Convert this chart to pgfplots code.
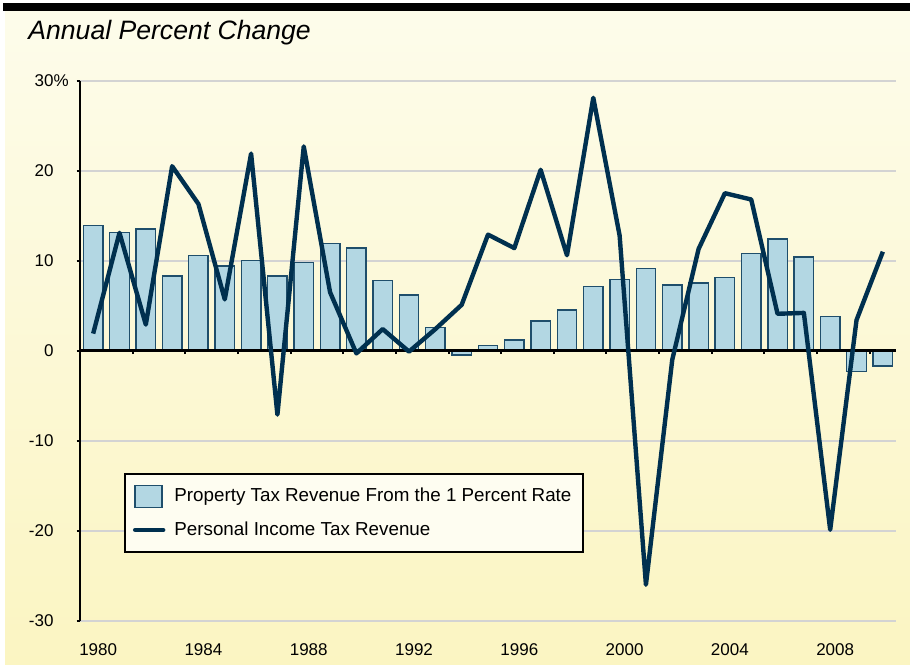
\documentclass[border=0pt]{standalone}
\usepackage{fontspec}
\setmainfont{Liberation Sans}
\usepackage{pgfplots}
\usepackage{pgfplotstable}
\pgfplotsset{compat=1.18}
\definecolor{bgtop}{HTML}{FDFCEB}
\definecolor{bgbot}{HTML}{FBF5C2}
\definecolor{barfill}{HTML}{B3D7E3}
\definecolor{baredge}{HTML}{1F4E6B}
\definecolor{pitline}{HTML}{00304F}
\definecolor{gridgray}{HTML}{D3D3D3}
\definecolor{legfill}{HTML}{FEFDF1}

% annual percent change: property tax (1% rate) and personal income tax
\pgfplotstableread{
year prop pit
1980 13.9 1.9
1981 13.1 13.1
1982 13.5 2.9
1983 8.3 20.5
1984 10.6 16.3
1985 9.4 5.7
1986 10.0 21.9
1987 8.3 -7.1
1988 9.8 22.7
1989 11.9 6.5
1990 11.4 -0.3
1991 7.8 2.4
1992 6.2 -0.1
1993 2.6 2.4
1994 -0.5 5.1
1995 0.6 12.9
1996 1.2 11.4
1997 3.3 20.1
1998 4.5 10.6
1999 7.1 28.1
2000 7.9 12.8
2001 9.1 -26.0
2002 7.3 -1.0
2003 7.5 11.3
2004 8.1 17.5
2005 10.8 16.8
2006 12.4 4.1
2007 10.4 4.2
2008 3.8 -19.9
2009 -2.3 3.4
2010 -1.7 11.0
}\revdata

\pgfplotsset{
  common/.style={
    width=408pt, height=270pt, scale only axis,
    at={(40pt,21.65pt)}, anchor=south west,
    xmin=1979.5, xmax=2010.5, ymin=-30, ymax=30,
  },
  barlegend/.style={legend image code/.code={\draw[##1] (0pt,-5.5pt) rectangle (13.5pt,5.5pt);}},
  linelegend/.style={legend image code/.code={\draw[##1, line cap=round] (0pt,0pt) -- (14pt,0pt);}},
}

\begin{document}
\begin{tikzpicture}
\useasboundingbox (0,0) rectangle (455pt,332pt);
\fill[white] (0,0) rectangle (455pt,332pt);
\shade[top color=bgtop, bottom color=bgbot] (2.5pt,0) rectangle (455pt,330pt);
\fill[black] (1.5pt,326.5pt) rectangle (455pt,330.5pt);
\node[anchor=west, inner sep=0pt, font=\fontsize{13.3}{16}\selectfont\itshape]
  at (14pt,315.5pt) {Annual Percent Change};

% bars, grid, y axis, year labels
\begin{axis}[
    common,
    ybar, bar width=0.74,
    axis x line*=bottom, axis y line*=left,
    x axis line style={draw=none},
    y axis line style={line width=1.3pt},
    xtick={1980,1984,...,2008},
    xticklabels={1980,1984,1988,1992,1996,2000,2004,2008},
    xtick style={draw=none},
    x tick label style={font=\fontsize{8.5}{10}\selectfont, yshift=-6pt, xshift=2.5pt},
    ytick={-30,-20,...,30},
    yticklabels={-30,-20,-10,0,10,20,{30\rlap{\%}}},
    y tick label style={font=\fontsize{8.5}{10}\selectfont, xshift=-8pt},
    ytick style={line width=1pt, black},
    tick align=outside, major tick length=1.7pt,
    ymajorgrids, grid style={gridgray, line width=1pt},
]
\addplot[fill=barfill, draw=baredge, line width=0.7pt] table[x=year,y=prop]{\revdata};
\end{axis}

% zero line, its ticks, income tax line and legend
\begin{axis}[
    common,
    axis x line=middle, axis y line=none,
    x axis line style={-, line width=1.5pt},
    xtick={1981.5,1983.5,...,2009.5},
    xticklabels={},
    xtick style={line width=1pt, black},
    tick align=outside, major tick length=1.7pt,
    legend style={
      at={(0.0539,0.2735)}, anchor=north west,
      fill=legfill, draw=black, line width=1pt,
      font=\fontsize{9.4}{11}\selectfont,
      inner xsep=4pt, inner ysep=5pt, row sep=4.5pt, column sep=2.5pt,
    },
    legend cell align=left,
]
\addlegendimage{fill=barfill, draw=baredge, line width=0.7pt, barlegend}
\addlegendentry{Property Tax Revenue From the 1 Percent Rate}
\addplot[pitline, line width=2.2pt, line join=round, linelegend]
  table[x=year,y=pit]{\revdata};
\addlegendentry{Personal Income Tax Revenue}
\end{axis}
\end{tikzpicture}
\end{document}
